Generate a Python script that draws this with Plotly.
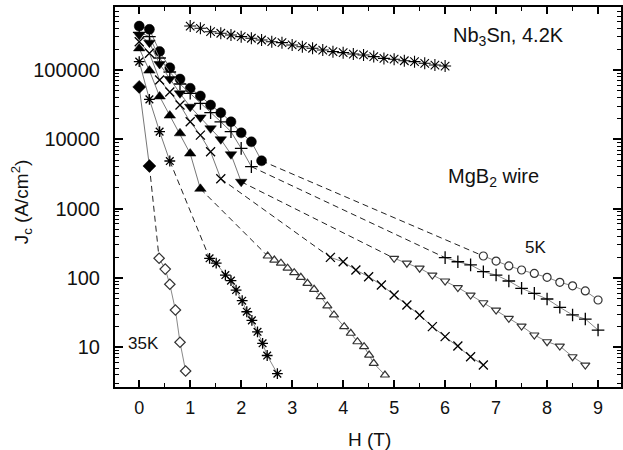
import plotly.graph_objects as go

# ---------------- data ----------------
H_5K_f = [0, 0.2, 0.4, 0.6, 0.8, 1.0, 1.2, 1.4, 1.6, 1.8, 2.0, 2.2, 2.4]
J_5K_f = [430000, 386000, 185000, 108000, 74000, 54500, 42200, 31200, 24200, 17900, 12400, 9200, 4900]
H_5K_o = [6.75, 7.0, 7.25, 7.5, 7.75, 8.0, 8.25, 8.5, 8.75, 9.0]
J_5K_o = [207, 175, 149, 130, 116, 102, 86.5, 77, 65, 48]

H_10K_f = [0, 0.2, 0.4, 0.6, 0.8, 1.0, 1.2, 1.4, 1.6, 1.8, 2.0, 2.2]
J_10K_f = [350000, 303000, 149000, 93600, 62800, 46100, 33000, 24200, 17900, 12900, 7400, 4030]
H_10K_o = [6.0, 6.25, 6.5, 6.75, 7.0, 7.25, 7.5, 7.75, 8.0, 8.25, 8.5, 8.75, 9.0]
J_10K_o = [196, 171, 154, 123, 110, 90.2, 70.8, 59.9, 49.6, 37.7, 29.2, 25.5, 17.7]

H_15K_f = [0, 0.2, 0.4, 0.6, 0.8, 1.0, 1.2, 1.4, 1.6, 1.8, 2.0]
J_15K_f = [320000, 248000, 122000, 74000, 46100, 29500, 20700, 14400, 10000, 6080, 2440]
H_15K_o = [5.0, 5.25, 5.5, 5.75, 6.0, 6.25, 6.5, 6.75, 7.0, 7.25, 7.5, 7.75, 8.0, 8.25, 8.5, 8.75]
J_15K_o = [192, 163, 138, 110, 90.2, 72.6, 56.6, 43.8, 34.4, 26.1, 20.2, 15.0, 12.0, 10.4, 7.29, 5.53]

H_20K_f = [0, 0.2, 0.4, 0.6, 0.8, 1.0, 1.2, 1.4, 1.6]
J_20K_f = [256000, 174000, 71700, 48200, 31200, 17900, 11500, 6620, 2700]
H_20K_o = [3.75, 4.0, 4.25, 4.5, 4.75, 5.0, 5.25, 5.5, 5.75, 6.0, 6.25, 6.5, 6.75]
J_20K_o = [198, 171, 130, 104, 79.1, 56.6, 40.6, 29.2, 19.8, 14.2, 10.4, 7.29, 5.53]

H_25K_f = [0, 0.2, 0.4, 0.6, 0.8, 1.0, 1.2]
J_25K_f = [205000, 98000, 41500, 22000, 12200, 6230, 1930]
H_25K_o = [2.52, 2.65, 2.78, 2.91, 3.04, 3.17, 3.30, 3.43, 3.56, 3.69, 3.82, 4.02, 4.15, 4.28, 4.41, 4.51, 4.60, 4.82]
J_25K_o = [207, 181, 163, 138, 119, 102, 83.6, 68.5, 53.6, 39.4, 29.2, 19.8, 15.9, 12.0, 10.2, 7.71, 5.86, 3.97]

H_30K_f = [0, 0.2, 0.4, 0.6]
J_30K_f = [132000, 37700, 12900, 4860]
H_30K_o = [1.38, 1.51, 1.69, 1.80, 1.90, 2.02, 2.11, 2.21, 2.32, 2.42, 2.51, 2.71]
J_30K_o = [192, 163, 110, 91.3, 66.8, 46.9, 32.5, 24.4, 16.7, 11.4, 7.59, 4.15]

H_35K_f = [0, 0.2]
J_35K_f = [57000, 4120]
H_35K_o = [0.39, 0.51, 0.60, 0.71, 0.80, 0.91]
J_35K_o = [192, 134, 80.9, 34.4, 11.8, 4.54]

H_Nb3Sn = [1.0, 1.2, 1.4, 1.6, 1.8, 2.0, 2.2, 2.4, 2.6, 2.8, 3.0, 3.2, 3.4,
           3.6, 3.8, 4.0, 4.2, 4.4, 4.6, 4.8, 5.0, 5.2, 5.4, 5.6, 5.8, 6.0]
J_Nb3Sn = [431000, 400000, 357000, 339000, 320000, 303000, 287000, 271000, 256000,
           248000, 230000, 217000, 206000, 194000, 184000, 178000, 170000, 165000,
           156000, 147000, 143000, 136000, 132000, 125000, 118000, 114000]

x_ticks = [0, 1, 2, 3, 4, 5, 6, 7, 8, 9]
x_ticktext = ["0", "1", "2", "3", "4", "5", "6", "7", "8", "9"]
y_ticks = [10, 100, 1000, 10000, 100000]
y_ticktext = ["10", "100", "1000", "10000", "100000"]

# ---------------- styles ----------------
series = [
    (H_5K_f, J_5K_f, H_5K_o, J_5K_o, "circle", "circle"),
    (H_10K_f, J_10K_f, H_10K_o, J_10K_o, "cross-thin", "cross-thin"),
    (H_15K_f, J_15K_f, H_15K_o, J_15K_o, "triangle-down", "triangle-down"),
    (H_20K_f, J_20K_f, H_20K_o, J_20K_o, "x-thin", "x-thin"),
    (H_25K_f, J_25K_f, H_25K_o, J_25K_o, "triangle-up", "triangle-up"),
    (H_30K_f, J_30K_f, H_30K_o, J_30K_o, "asterisk", "asterisk"),
    (H_35K_f, J_35K_f, H_35K_o, J_35K_o, "diamond", "diamond"),
]
line_only = {"cross-thin", "x-thin", "asterisk"}
FONT = "Liberation Sans, Arial, sans-serif"

fig = go.Figure()


def marker_style(sym, filled):
    if sym in line_only:
        return dict(symbol=sym + "-open", size=9, color="black",
                    line=dict(color="#111", width=1.3))
    if filled:
        return dict(symbol=sym, size=10, color="black",
                    line=dict(color="black", width=0.5))
    return dict(symbol=sym, size=8, color="white",
                line=dict(color="#333", width=1.2))


for hf, jf, ho, jo, sf, so in series:
    # dashed gap between the two measurement sets
    fig.add_trace(go.Scatter(x=[hf[-1], ho[0]], y=[jf[-1], jo[0]], mode="lines",
                             line=dict(color="#222", width=1, dash="6px,4px"),
                             hoverinfo="skip"))
    fig.add_trace(go.Scatter(x=hf, y=jf, mode="lines+markers",
                             line=dict(color="#777", width=1),
                             marker=marker_style(sf, True)))
    fig.add_trace(go.Scatter(x=ho, y=jo, mode="lines+markers",
                             line=dict(color="#888", width=1),
                             marker=marker_style(so, False)))

fig.add_trace(go.Scatter(x=H_Nb3Sn, y=J_Nb3Sn, mode="markers",
                         marker=dict(symbol="asterisk-open", size=10, color="black",
                                     line=dict(color="#222", width=1.1))))

axis_common = dict(showgrid=False, zeroline=False, showline=True, linewidth=2,
                   linecolor="black", mirror="ticks", ticks="inside",
                   tickcolor="black", tickwidth=1.5)

fig.update_layout(
    width=623, height=450,
    margin=dict(l=115, r=0, t=7, b=63),
    paper_bgcolor="white", plot_bgcolor="white",
    showlegend=False,
    font=dict(family=FONT, color="#111"),
    xaxis=dict(range=[-0.475, 9.45], tickmode="array", tickvals=x_ticks,
               ticktext=x_ticktext, ticklen=7, tickfont=dict(size=18),
               ticklabelstandoff=3,
               minor=dict(ticks="inside", ticklen=4, tickcolor="black",
                          tickwidth=1, dtick=0.5, tick0=0),
               **axis_common),
    yaxis=dict(type="log", range=[0.426, 5.909], tickmode="array", tickvals=y_ticks,
               ticktext=y_ticktext, ticklen=8, tickfont=dict(size=20),
               ticklabelstandoff=9,
               minor=dict(ticks="inside", ticklen=4, tickcolor="black",
                          tickwidth=1, dtick="D1"),
               **axis_common),
    annotations=[
        dict(text="H (T)", x=0.502, y=-0.139, xref="paper", yref="paper",
             showarrow=False, font=dict(size=19), xanchor="center", yanchor="middle"),
        dict(text="J<sub>c</sub> (A/cm<sup>2</sup>)", x=-0.183, y=0.487,
             xref="paper", yref="paper", textangle=-90, showarrow=False,
             font=dict(size=19), xanchor="center", yanchor="middle"),
        dict(text="Nb<sub>3</sub>Sn, 4.2K", x=7.24, y=5.49, xref="x", yref="y",
             showarrow=False, font=dict(size=20), xanchor="center", yanchor="middle"),
        dict(text="MgB<sub>2</sub> wire", x=6.94, y=3.456, xref="x", yref="y",
             showarrow=False, font=dict(size=20), xanchor="center", yanchor="middle"),
        dict(text="5K", x=7.78, y=2.446, xref="x", yref="y",
             showarrow=False, font=dict(size=17), xanchor="center", yanchor="middle"),
        dict(text="35K", x=0.08, y=1.06, xref="x", yref="y",
             showarrow=False, font=dict(size=17), xanchor="center", yanchor="middle"),
    ],
)

fig.write_html("out.html", config={"displayModeBar": False},
               post_script="document.body.style.margin='0px';")
